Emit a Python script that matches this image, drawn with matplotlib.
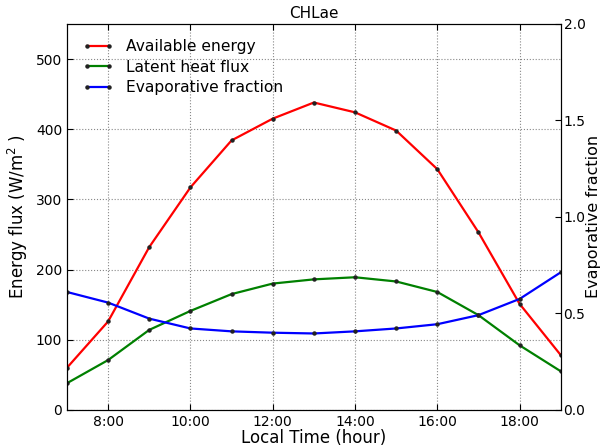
import matplotlib
matplotlib.use("Agg")
import matplotlib.pyplot as plt

# Heures locales et séries
hours = [7, 8, 9, 10, 11, 12, 13, 14, 15, 16, 17, 18, 19]
available_energy = [60, 126, 232, 317, 384, 415, 438, 424, 398, 343, 253, 151, 78]
latent_heat = [38, 71, 114, 141, 165, 180, 186, 189, 183, 168, 135, 92, 55]
evap_fraction = [0.611, 0.556, 0.473, 0.422, 0.407, 0.400, 0.396, 0.407, 0.422, 0.444, 0.491, 0.575, 0.713]
tick_hours = [8, 10, 12, 14, 16, 18]
tick_labels = ["%d:00" % h for h in tick_hours]

fig = plt.figure(figsize=(6.03, 4.47), dpi=100)
ax1 = fig.add_axes([0.111, 0.083, 0.819, 0.8635])
ax2 = ax1.twinx()

mk = dict(marker="o", markersize=2.2, markeredgecolor="#222222", markerfacecolor="#222222", linewidth=1.6)
l1, = ax1.plot(hours, available_energy, color="red", label="Available energy", **mk)
l2, = ax1.plot(hours, latent_heat, color="green", label="Latent heat flux", **mk)
l3, = ax2.plot(hours, evap_fraction, color="blue", label="Evaporative fraction", **mk)

ax1.set_xlim(7, 19)
ax1.set_ylim(0, 550)
ax2.set_ylim(0, 2.0)
ax1.set_xticks(tick_hours)
ax1.set_xticklabels(tick_labels)
ax1.set_yticks([0, 100, 200, 300, 400, 500])
ax2.set_yticks([0, 0.5, 1.0, 1.5, 2.0])
ax1.grid(True, linestyle=":", color="#888888", linewidth=0.8)

for ax in (ax1, ax2):
    ax.tick_params(labelsize=10, direction="in", length=4)
ax1.tick_params(axis="x", pad=4)
ax1.tick_params(top=True)
ax2.tick_params(pad=2)

ax1.set_xlabel("Local Time (hour)", fontsize=12, labelpad=0)
ax1.set_ylabel("Energy flux (W/m$^2$ )", fontsize=12)
ax2.set_ylabel("Evaporative fraction", fontsize=11.5, labelpad=0)
ax1.set_title("CHLae", fontsize=11, pad=4)

ax1.legend(handles=[l1, l2, l3], loc="upper left", frameon=False, numpoints=2,
           fontsize=11.2, handlelength=2.0, borderaxespad=0.6, labelspacing=0.35)

fig.savefig("out.png", dpi=100)
